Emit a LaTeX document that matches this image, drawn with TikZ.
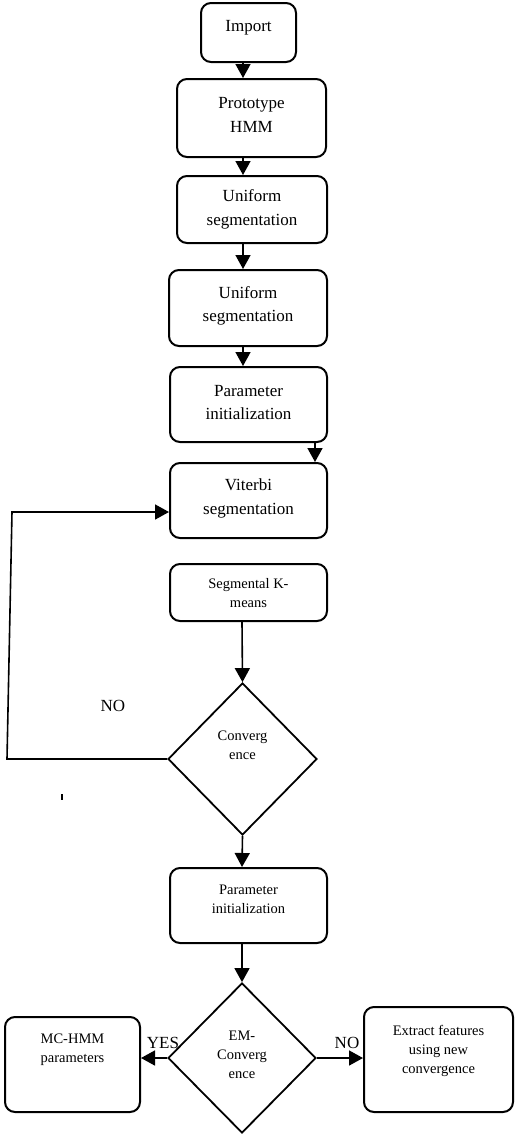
\documentclass[tikz,border=0pt]{standalone}
\usepackage{fontspec}
\setmainfont{Liberation Serif}
\usetikzlibrary{shapes.geometric,arrows.meta}
\begin{document}
\begin{tikzpicture}[x=1pt,y=-1pt,
  box/.style={draw, line width=2pt, rounded corners=10pt, inner sep=0pt},
  dia/.style={draw, diamond, line width=1.8pt, inner sep=0pt},
  big/.style={font=\fontsize{17}{23.5}\selectfont, align=center},
  small/.style={font=\fontsize{14.5}{19}\selectfont, align=center},
  arr/.style={line width=1.6pt, -{Triangle[width=15pt,length=14pt]}}]
\useasboundingbox (0,0) rectangle (515,1135);

\node[box, minimum width=95pt, minimum height=59pt, label={[big,yshift=5pt]center:Import}] (import) at (248.5,32.5) {};
\node[box, minimum width=149pt, minimum height=78pt, label={[big,yshift=3pt]center:Prototype\\HMM}] (proto) at (251.5,118) {};
\node[box, minimum width=150pt, minimum height=67pt, label={[big]center:Uniform\\segmentation}] (uni1) at (252,209.5) {};
\node[box, minimum width=158pt, minimum height=76pt, label={[big,yshift=2pt]center:Uniform\\segmentation}] (uni2) at (248,308) {};
\node[box, minimum width=157pt, minimum height=75pt, label={[big,yshift=2pt]center:Parameter\\initialization}] (param1) at (248.5,404.5) {};
\node[box, minimum width=157pt, minimum height=75pt, label={[big,yshift=2pt]center:Viterbi\\segmentation}] (viterbi) at (248.5,500.5) {};
\node[box, minimum width=157pt, minimum height=57pt, label={[small,yshift=-1pt]center:Segmental K-\\means}] (segk) at (248.5,592.5) {};
\node[dia, minimum width=149pt, minimum height=152pt, label={[small,yshift=14pt]center:Converg\\ence}] (conv) at (242.5,759) {};
\node[box, minimum width=157pt, minimum height=75pt, label={[small,yshift=6pt]center:Parameter\\initialization}] (param2) at (248.5,905.5) {};
\node[dia, minimum width=148pt, minimum height=150pt, label={[small,yshift=3pt]center:EM-\\Converg\\ence}] (em) at (242,1058) {};
\node[box, minimum width=135pt, minimum height=95pt, label={[small,yshift=15pt]center:MC-HMM\\parameters}] (mchmm) at (72.5,1064.5) {};
\node[box, minimum width=149pt, minimum height=105pt, label={[small,yshift=9pt]center:Extract features\\using new\\convergence}] (extract) at (438.5,1059.5) {};

\coordinate (ax) at (243,0);
\coordinate (bx) at (242,0);
\coordinate (px) at (315,0);
\draw[arr] (import.south -| ax) -- (proto.north -| ax);
\draw[arr] (proto.south -| ax) -- (uni1.north -| ax);
\draw[arr] (uni1.south -| ax) -- (uni2.north -| ax);
\draw[arr] (uni2.south -| ax) -- (param1.north -| ax);
\draw[arr] (param1.south -| px) -- (viterbi.north -| px);
\draw[arr] (segk.south -| bx) -- (conv.north);
\draw[arr] (conv.south) -- (param2.north -| bx);
\draw[arr] (param2.south -| bx) -- (em.north);

\coordinate (l1) at (7,759);
\coordinate (l2) at (12,512);
\draw[arr] (conv.west) -- (l1) -- (l2) -- (l2 -| viterbi.west);

\draw[arr] (em.west) -- (em.west -| mchmm.east);
\draw[arr] (em.east) -- (em.east -| extract.west);

\node[big] (no1) at (113,706) {NO};
\node[big] (yes) at (163,1043) {YES};
\node[big] (no2) at (347,1043) {NO};

\draw[line width=1.5pt] (62,794) -- (62,800);
\end{tikzpicture}
\end{document}
